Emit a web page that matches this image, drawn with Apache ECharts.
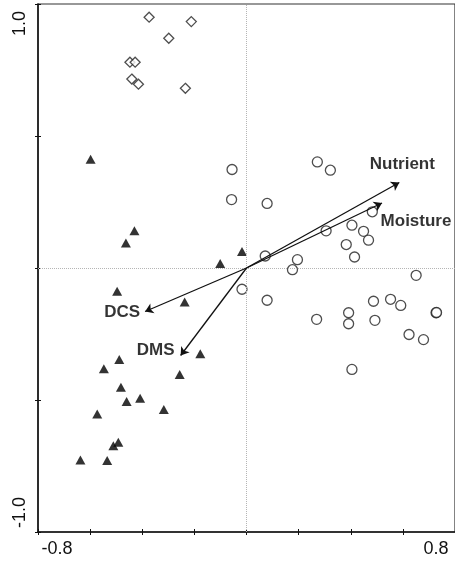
<!DOCTYPE html>
<html>
<head>
<meta charset="utf-8">
<style>
  html, body { margin: 0; padding: 0; background: #fff; }
  #container { width: 455px; height: 561px; }
</style>
<script src="https://cdn.jsdelivr.net/npm/echarts@6/dist/echarts.min.js"></script>
</head>
<body>
<div id="container"></div>
<script>
var dom = document.getElementById("container");
var myChart = echarts.init(dom);

// site scores
var diamondSites = [
    [-0.411, 1.026], [-0.233, 1.008], [-0.328, 0.940], [-0.492, 0.842],
    [-0.470, 0.842], [-0.484, 0.773], [-0.456, 0.752], [-0.258, 0.735]
];
var triangleSites = [
    [-0.658, 0.445], [-0.473, 0.152], [-0.509, 0.102], [-0.019, 0.068],
    [-0.111, 0.018], [-0.546, -0.095], [-0.261, -0.139], [-0.195, -0.351],
    [-0.537, -0.374], [-0.602, -0.412], [-0.282, -0.436], [-0.530, -0.488],
    [-0.449, -0.533], [-0.506, -0.546], [-0.349, -0.579], [-0.630, -0.597],
    [-0.541, -0.713], [-0.562, -0.727], [-0.701, -0.785], [-0.588, -0.788]
];
var circleSites = [
    [-0.061, 0.403], [-0.063, 0.280], [0.299, 0.434], [0.354, 0.400],
    [0.087, 0.264], [0.531, 0.230], [0.445, 0.175], [0.336, 0.152],
    [0.494, 0.150], [0.515, 0.114], [0.421, 0.096], [0.079, 0.049],
    [0.215, 0.034], [0.456, 0.045], [0.194, -0.007], [0.716, -0.030],
    [-0.019, -0.087], [0.087, -0.132], [0.296, -0.210], [0.431, -0.183],
    [0.431, -0.228], [0.536, -0.136], [0.608, -0.128], [0.651, -0.153],
    [0.542, -0.214], [0.800, -0.183], [0.802, -0.182], [0.686, -0.272],
    [0.747, -0.293], [0.445, -0.415]
];

// environmental variables (arrow tips)
var envNames = ['Nutrient', 'Moisture', 'DCS', 'DMS'];
var envScores = [[0.645, 0.350], [0.572, 0.266], [-0.428, -0.178], [-0.278, -0.358]];
var envLabelOffsets = [[3, -18], [34, 18], [-23, 1], [-25, -5]];

var xTicks = [-0.88, -0.66, -0.44, -0.22, 0, 0.22, 0.44, 0.66, 0.88];
var yTicks = [-1.08, -0.54, 0, 0.54, 1.08];
var xLabels = [-0.8, 0.8];
var yLabels = [-1.0, 1.0];

var fontFam = '"Liberation Sans", Arial, sans-serif';

function baseX(inside) {
    return {
        type: 'value',
        min: -0.88,
        max: 0.88,
        position: 'bottom',
        splitLine: {show: false},
        axisLine: {show: !inside, onZero: false, lineStyle: {color: '#111', width: 1.5}},
        axisTick: {show: true, inside: inside, length: 3, customValues: xTicks,
                   lineStyle: {color: '#111', width: 1}},
        axisLabel: {show: !inside, customValues: xLabels, margin: 8,
                    fontSize: 18, color: '#111', fontFamily: fontFam,
                    formatter: function (v) { return v.toFixed(1); }}
    };
}
function baseY(inside) {
    return {
        type: 'value',
        min: -1.08,
        max: 1.08,
        position: 'left',
        splitLine: {show: false},
        axisLine: {show: !inside, onZero: false, lineStyle: {color: '#111', width: 1.5}},
        axisTick: {show: true, inside: inside, length: 3, customValues: yTicks,
                   lineStyle: {color: '#111', width: 1}},
        axisLabel: {show: !inside, customValues: yLabels, margin: 9, rotate: 90,
                    fontSize: 18, color: '#111', fontFamily: fontFam,
                    formatter: function (v) { return v.toFixed(1); }}
    };
}

var option = {
    animation: false,
    backgroundColor: '#fff',
    grid: {
        left: 38, top: 4, right: -4, bottom: 29,
        show: true, borderColor: '#333', borderWidth: 1.2
    },
    xAxis: [baseX(false), baseX(true)],
    yAxis: [baseY(false), baseY(true)],
    series: [
        {
            type: 'scatter',
            data: [],
            silent: true,
            markLine: {
                silent: true,
                symbol: 'none',
                label: {show: false},
                lineStyle: {type: 'dotted', color: '#b5b5b5', width: 1},
                data: [{xAxis: 0}, {yAxis: 0}]
            }
        },
        {
            name: 'diamond',
            type: 'scatter',
            data: diamondSites,
            symbol: 'diamond',
            symbolSize: 10,
            itemStyle: {color: '#fff', borderColor: '#222', borderWidth: 1.3}
        },
        {
            name: 'circle',
            type: 'scatter',
            data: circleSites,
            symbol: 'circle',
            symbolSize: 10,
            itemStyle: {color: '#fff', borderColor: '#222', borderWidth: 1.3}
        },
        {
            name: 'triangle',
            type: 'scatter',
            data: triangleSites,
            symbol: 'triangle',
            symbolSize: [10, 9],
            itemStyle: {color: '#000'}
        },
        {
            name: 'arrows',
            type: 'lines',
            coordinateSystem: 'cartesian2d',
            symbol: ['none', 'arrow'],
            symbolSize: 8,
            lineStyle: {color: '#111', width: 1.3, opacity: 1},
            data: envScores.map(function (p) {
                return {coords: [[0, 0], p]};
            }),
            z: 5
        },
        {
            name: 'envLabels',
            type: 'scatter',
            symbolSize: 0,
            silent: true,
            z: 6,
            data: envScores.map(function (p, i) {
                return {
                    value: p,
                    label: {
                        show: true,
                        position: 'inside',
                        offset: envLabelOffsets[i],
                        formatter: envNames[i],
                        fontSize: 17,
                        fontWeight: 'bold',
                        color: '#000',
                        fontFamily: fontFam
                    }
                };
            })
        }
    ]
};

myChart.setOption(option, true);
</script>
</body>
</html>
